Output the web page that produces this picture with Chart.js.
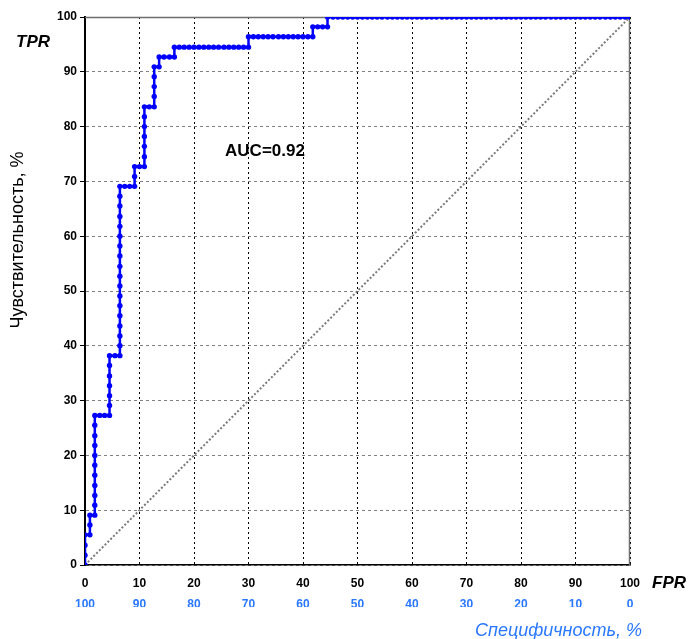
<!DOCTYPE html>
<html>
<head>
<meta charset="utf-8">
<script src="https://cdn.jsdelivr.net/npm/chart.js@4/dist/chart.umd.min.js"></script>
<style>
    html, body { margin: 0; padding: 0; background: #fff; }
    canvas { display: block; }
</style>
</head>
<body>
<canvas id="roc" width="688" height="639"></canvas>
<script>
// ROC curve points, % (false positive rate / sensitivity)
const fprPct = [
    0, 0, 0, 0,
    0.9, 0.9, 0.9,
    1.8, 1.8, 1.8, 1.8, 1.8, 1.8, 1.8, 1.8, 1.8, 1.8, 1.8,
    2.7, 3.6, 4.5,
    4.5, 4.5, 4.5, 4.5, 4.5, 4.5,
    5.5, 6.4,
    6.4, 6.4, 6.4, 6.4, 6.4, 6.4, 6.4, 6.4, 6.4, 6.4, 6.4, 6.4, 6.4, 6.4, 6.4, 6.4, 6.4,
    7.3, 8.2, 9.1,
    9.1, 9.1,
    10.0, 10.9,
    10.9, 10.9, 10.9, 10.9, 10.9, 10.9,
    11.8, 12.7,
    12.7, 12.7, 12.7, 12.7,
    13.6,
    13.6,
    14.5, 15.5, 16.4,
    16.4,
    17.3, 18.2, 19.1, 20.0, 20.9, 21.8, 22.7, 23.6, 24.5, 25.5, 26.4, 27.3, 28.2, 29.1, 30.0,
    30.0,
    30.9, 31.8, 32.7, 33.6, 34.5, 35.5, 36.4, 37.3, 38.2, 39.1, 40.0, 40.9, 41.8,
    41.8,
    42.7, 43.6, 44.5,
    44.5,
    45.5, 46.4, 47.3, 48.2, 49.1, 50.0, 50.9, 51.8, 52.7, 53.6,
    54.5, 55.5, 56.4, 57.3, 58.2, 59.1, 60.0, 60.9, 61.8, 62.7,
    63.6, 64.5, 65.5, 66.4, 67.3, 68.2, 69.1, 70.0, 70.9, 71.8,
    72.7, 73.6, 74.5, 75.5, 76.4, 77.3, 78.2, 79.1, 80.0, 80.9,
    81.8, 82.7, 83.6, 84.5, 85.5, 86.4, 87.3, 88.2, 89.1, 90.0,
    90.9, 91.8, 92.7, 93.6, 94.5, 95.5, 96.4, 97.3, 98.2, 99.1,
    100
]
const tprPct = [
    0, 1.8, 3.6, 5.5,
    5.5, 7.3, 9.1,
    9.1, 10.9, 12.7, 14.5, 16.4, 18.2, 20.0, 21.8, 23.6, 25.5, 27.3,
    27.3, 27.3, 27.3,
    29.1, 30.9, 32.7, 34.5, 36.4, 38.2,
    38.2, 38.2,
    40.0, 41.8, 43.6, 45.5, 47.3, 49.1, 50.9, 52.7, 54.5, 56.4, 58.2, 60.0, 61.8, 63.6, 65.5, 67.3, 69.1,
    69.1, 69.1, 69.1,
    70.9, 72.7,
    72.7, 72.7,
    74.5, 76.4, 78.2, 80.0, 81.8, 83.6,
    83.6, 83.6,
    85.5, 87.3, 89.1, 90.9,
    90.9,
    92.7,
    92.7, 92.7, 92.7,
    94.5,
    94.5, 94.5, 94.5, 94.5, 94.5, 94.5, 94.5, 94.5, 94.5, 94.5, 94.5, 94.5, 94.5, 94.5, 94.5,
    96.4,
    96.4, 96.4, 96.4, 96.4, 96.4, 96.4, 96.4, 96.4, 96.4, 96.4, 96.4, 96.4, 96.4,
    98.2,
    98.2, 98.2, 98.2,
    100,
    100, 100, 100, 100, 100, 100, 100, 100, 100, 100,
    100, 100, 100, 100, 100, 100, 100, 100, 100, 100,
    100, 100, 100, 100, 100, 100, 100, 100, 100, 100,
    100, 100, 100, 100, 100, 100, 100, 100, 100, 100,
    100, 100, 100, 100, 100, 100, 100, 100, 100, 100,
    100, 100, 100, 100, 100, 100, 100, 100, 100, 100,
    100
]
// reference diagonal
const diagX = [0, 100]
const diagY = [0, 100]
// axis range and annotation
const axisMin = 0
const axisMax = 100
const axisStep = 10
const aucText = 'AUC=0.92'
const aucPos = [25.7, 75.5]
const yTitle = 'Чувствительность, %'
const specTitle = 'Специфичность, %'

const blue = '#2a78ff'
const fontFamily = '"Liberation Sans", Arial, sans-serif'

function toPoints(xs, ys) {
    return xs.map(function (x, i) { return {x: x, y: ys[i]} })
}

// titles, frame and annotation
const extraText = {
    id: 'extraText',
    beforeDatasetsDraw(chart) {
        const ctx = chart.ctx
        const a = chart.chartArea
        ctx.save()
        ctx.strokeStyle = '#6e6e6e'
        ctx.lineWidth = 1.5
        ctx.beginPath()
        ctx.moveTo(a.left, a.top + 0.5)
        ctx.lineTo(a.right - 0.5, a.top + 0.5)
        ctx.lineTo(a.right - 0.5, a.bottom)
        ctx.stroke()
        ctx.restore()
    },
    afterDraw(chart) {
        const ctx = chart.ctx
        const a = chart.chartArea
        const sx = chart.scales.x
        const sy = chart.scales.y
        ctx.save()
        ctx.fillStyle = '#000'
        ctx.textBaseline = 'middle'

        ctx.font = 'italic bold 17px ' + fontFamily
        ctx.textAlign = 'center'
        ctx.fillText('TPR', 33, 42)
        ctx.textAlign = 'left'
        ctx.fillText('FPR', a.right + 22, 583)

        ctx.font = 'bold 17px ' + fontFamily
        ctx.fillText(aucText, sx.getPixelForValue(aucPos[0]), sy.getPixelForValue(aucPos[1]))

        ctx.fillStyle = blue
        ctx.font = 'italic 18px ' + fontFamily
        ctx.textAlign = 'right'
        ctx.fillText(specTitle, 642, 631)

        ctx.fillStyle = '#000'
        ctx.font = '18px ' + fontFamily
        ctx.translate(18, 240)
        ctx.rotate(-Math.PI / 2)
        ctx.textAlign = 'center'
        ctx.fillText(yTitle, 0, 0)
        ctx.restore()
    }
}

const tickFont = { family: fontFamily, size: 12, weight: 'bold' }

new Chart(document.getElementById('roc').getContext('2d'), {
    type: 'scatter',
    data: {
        datasets: [
            {
                data: toPoints(fprPct, tprPct),
                showLine: true,
                borderColor: '#0000ff',
                backgroundColor: '#0000ff',
                borderWidth: 2.5,
                pointRadius: 2.7,
                pointBorderWidth: 0,
                pointStyle: 'circle',
                order: 0
            },
            {
                data: toPoints(diagX, diagY),
                showLine: true,
                borderColor: '#7a7a7a',
                borderWidth: 2,
                borderDash: [2, 2],
                pointRadius: 0,
                order: 1
            }
        ]
    },
    options: {
        responsive: false,
        animation: false,
        devicePixelRatio: 1,
        layout: { padding: { left: 0, top: 17, right: 58, bottom: 32 } },
        plugins: {
            legend: { display: false },
            tooltip: { enabled: false }
        },
        scales: {
            x: {
                type: 'linear',
                position: 'bottom',
                weight: 0,
                min: axisMin,
                max: axisMax,
                ticks: { stepSize: axisStep, color: '#000', font: tickFont, padding: 11, maxRotation: 0 },
                grid: { color: '#000', lineWidth: 1, drawTicks: false, tickLength: 0 },
                border: { color: '#000', width: 1.5, dash: [2, 3] },
                afterFit(scale) { scale.height = 22 }
            },
            x2: {
                type: 'linear',
                position: 'bottom',
                weight: 1,
                reverse: true,
                min: axisMin,
                max: axisMax,
                ticks: { stepSize: axisStep, color: blue, font: tickFont, padding: 10, maxRotation: 0 },
                grid: { display: false, drawTicks: false, tickLength: 0 },
                border: { display: false },
                afterFit(scale) { scale.height = 20 }
            },
            y: {
                type: 'linear',
                min: axisMin,
                max: axisMax,
                ticks: { stepSize: axisStep, color: '#000', font: tickFont, padding: 3 },
                grid: { color: '#808080', lineWidth: 1, drawTicks: true, tickLength: 5, tickColor: '#000' },
                border: { color: '#000', width: 2, dash: [3, 3] },
                afterFit(scale) { scale.width = 85 }
            }
        }
    },
    plugins: [extraText]
})
</script>
</body>
</html>
